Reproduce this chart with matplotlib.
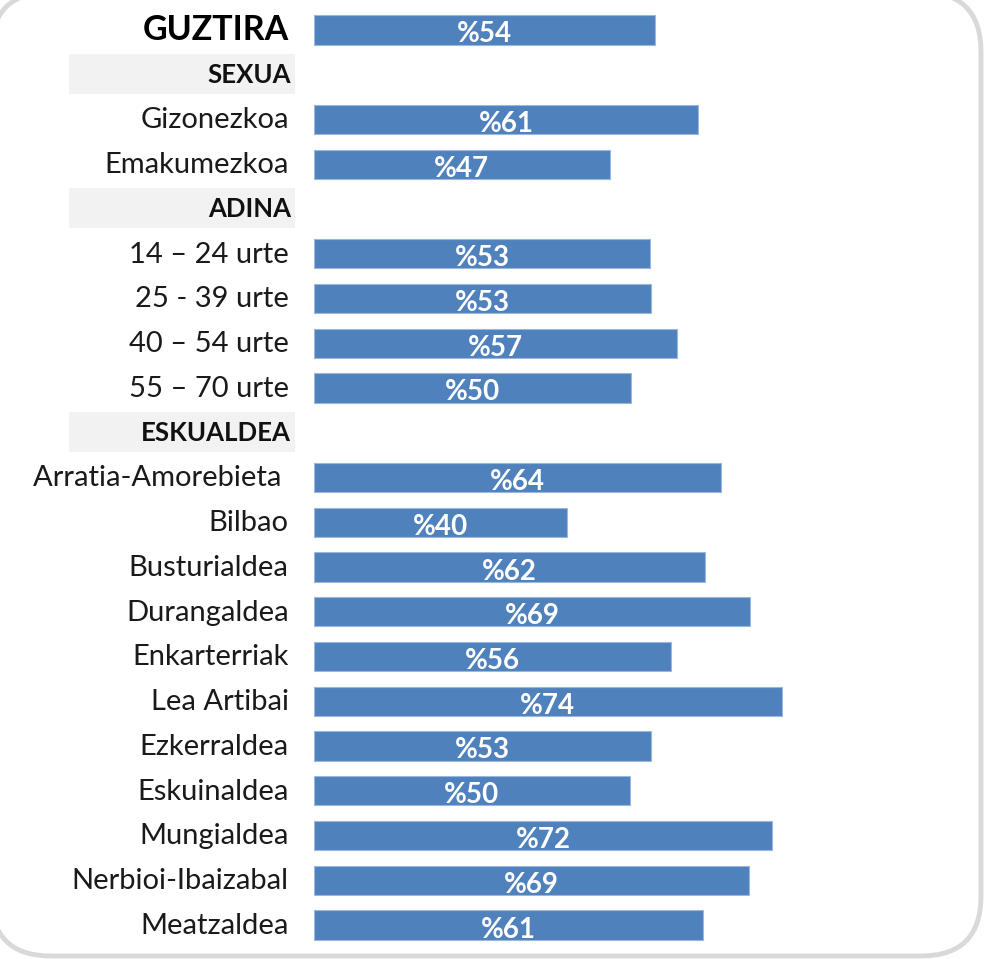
import matplotlib
matplotlib.use("Agg")
import matplotlib.pyplot as plt
import numpy as np
from matplotlib.patches import FancyBboxPatch, Rectangle

labels = [
    "GUZTIRA", "SEXUA", "Gizonezkoa", "Emakumezkoa",
    "ADINA", "14 – 24 urte", "25 - 39 urte", "40 – 54 urte", "55 – 70 urte",
    "ESKUALDEA", "Arratia-Amorebieta ", "Bilbao", "Busturialdea", "Durangaldea",
    "Enkarterriak", "Lea Artibai", "Ezkerraldea", "Eskuinaldea", "Mungialdea",
    "Nerbioi-Ibaizabal", "Meatzaldea",
]
values = [
    54.0, np.nan, 60.8, 46.8,
    np.nan, 53.2, 53.3, 57.4, 50.2,
    np.nan, 64.4, 40.0, 61.9, 69.0,
    56.5, 74.0, 53.3, 50.0, 72.5,
    68.8, 61.6,
]
value_labels = [
    "%54", "", "%61", "%47",
    "", "%53", "%53", "%57", "%50",
    "", "%64", "%40", "%62", "%69",
    "%56", "%74", "%53", "%50", "%72",
    "%69", "%61",
]
headers = ["SEXUA", "ADINA", "ESKUALDEA"]
total_label = "GUZTIRA"

BLUE = "#4f81bd"
W, H = 987, 959
fig = plt.figure(figsize=(W / 100, H / 100), dpi=100)

# background axes in pixel units, only for the rounded frame
bg = fig.add_axes([0, 0, 1, 1], zorder=-1)
bg.set_xlim(0, W)
bg.set_ylim(H, 0)
bg.axis("off")
bg.add_patch(FancyBboxPatch((-9, -8), 990, 964,
                            boxstyle="round,pad=0,rounding_size=60",
                            facecolor="white", edgecolor="#d9d9d9",
                            linewidth=3.5))

# axes: 6.32 px per percent, rows 44.75 px apart starting at y=30
ax = fig.add_axes([314 / W, 1 - 947.4 / H, 632 / W, 939.75 / H])
ax.set_xlim(0, 100)
ax.set_ylim(len(labels) - 0.5, -0.5)
ax.axis("off")

rows = np.arange(len(labels))
vals = np.array(values)
mask = ~np.isnan(vals)
ax.barh(rows[mask], vals[mask], height=0.65, color=BLUE,
        edgecolor="#9ab8dd", linewidth=0.8)

lab_x = -4.0
for i, (lab, v, vl) in enumerate(zip(labels, values, value_labels)):
    if lab in headers:
        ax.add_patch(Rectangle((-38.8, i - 0.47), 35.8, 0.89, facecolor="#f2f2f2",
                               edgecolor="none", clip_on=False))
        ax.text(-3.6, i, lab, ha="right", va="center", fontsize=18.5,
                fontweight="bold", family="Lato", color="#111111", clip_on=False)
        continue
    if lab == total_label:
        ax.text(lab_x, i, lab, ha="right", va="center", fontsize=24.5,
                fontweight="bold", family="Lato", color="black", clip_on=False)
    else:
        ax.text(lab_x, i + 0.02, lab, ha="right", va="center", fontsize=21,
                family="Lato", color="#1a1a1a", clip_on=False)
    ax.text(v / 2, i + 0.1, vl, ha="center", va="center", fontsize=20,
            fontweight="bold", family="Lato", color="white")

fig.savefig("out.png", dpi=100)
